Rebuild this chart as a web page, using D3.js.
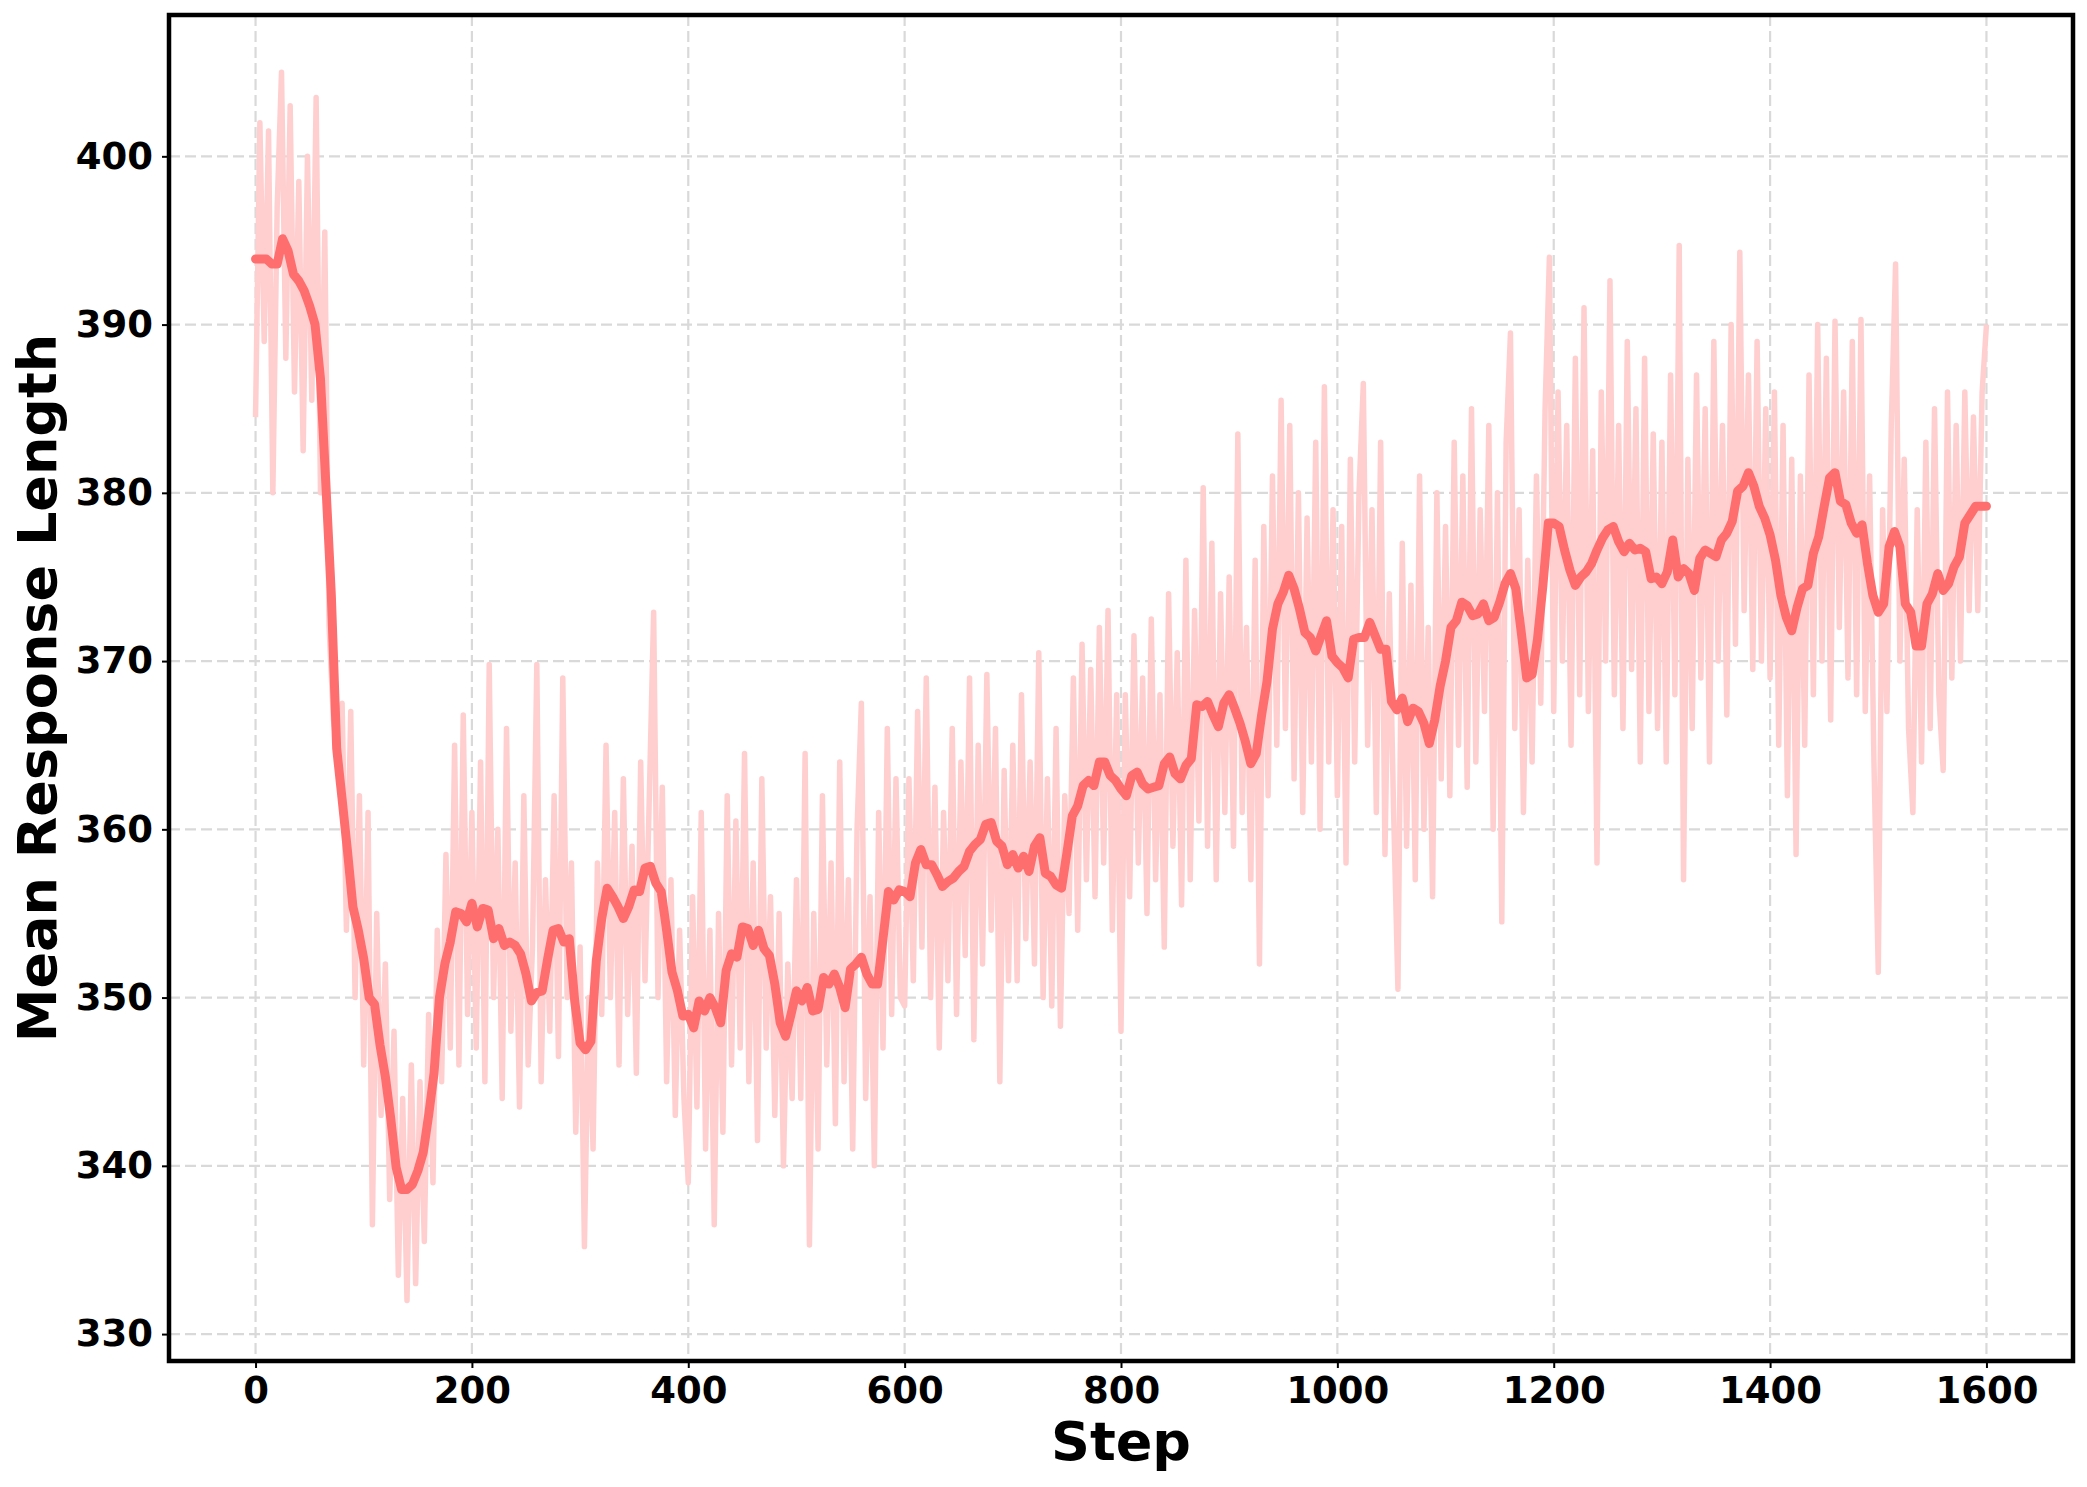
<!DOCTYPE html>
<html>
<head>
<meta charset="utf-8">
<script src="https://cdn.jsdelivr.net/npm/d3@7"></script>
<style>
body { margin: 0; background: #fff; }
text { font-family: 'DejaVu Sans', sans-serif; font-weight: bold; }
</style>
</head>
<body>
<script>
// raw mean response length, one reading every 4 steps
var rawEvery = 4
var raw = [
  384.5, 402, 389, 401.5, 380, 397, 405, 388, 403, 386, 398.5, 382.5, 400, 385.5, 403.5, 380, 395.5, 372, 366.5, 364.5, 367.5, 354, 367, 350, 362,
  346, 361, 336.5, 355, 343, 352, 338, 348, 333.5, 344, 332, 346, 333, 345, 335.5, 349, 339, 354, 345, 358.5, 347, 365, 346, 366.8, 349,
  361, 347, 364, 345, 369.8, 350, 360, 344, 366, 348, 358, 343.5, 362, 346, 353, 369.8, 345, 357, 348, 362, 346.5, 369, 350, 358, 342,
  353, 335.2, 350, 341, 358, 349, 365, 350, 361, 346, 363, 349, 359, 345.5, 364, 351, 362, 372.9, 350, 362.5, 345, 357, 343, 354, 344,
  339, 356, 343.5, 361, 341, 354, 336.5, 355, 342, 362, 346, 360.5, 347, 364.5, 345, 358, 341.5, 363, 347, 356, 343, 355, 340, 352, 344,
  357, 344, 364.5, 335.3, 355, 341, 362, 346, 358, 342.5, 364, 345, 357, 341, 360, 367.5, 344, 356, 340, 361, 347, 366, 349, 363, 350,
  349.5, 363, 351, 367, 353, 369, 350, 362.5, 347, 361, 351, 366, 349, 364, 352.5, 369, 347.5, 365, 352, 369.2, 354, 366, 345, 363.5, 351,
  365, 351, 368, 353.5, 364, 352, 370.5, 350, 363, 349.5, 366, 348.3, 362, 355, 369, 354, 371, 357, 369.5, 356, 372, 358, 373, 354, 368,
  348, 368, 356, 371.5, 358, 369, 355, 372.5, 357, 368, 353, 374, 359, 370.5, 355.5, 376, 357, 373, 360.5, 380.3, 359, 377, 357, 374, 361,
  375, 359, 383.5, 361, 372, 357, 376, 352, 378, 362, 381, 365, 385.5, 366, 384, 363, 380, 361, 378.5, 364, 383, 360, 386.3, 364, 379,
  362, 378, 358, 382, 364, 380, 386.5, 365, 379, 361, 383, 358.5, 374, 361, 350.5, 377, 359, 374.5, 357, 381, 360, 372, 356, 380, 363,
  378, 362, 383, 365, 381, 362.5, 385, 364, 379, 367, 384, 360, 380, 354.5, 383, 389.5, 366, 379, 361, 376, 364, 381, 367.5, 385, 394,
  367, 386, 370, 384, 365, 388, 368, 391, 367, 382.5, 358, 386, 370, 392.6, 368, 384, 366, 389, 369.5, 385, 364, 388, 367, 383.5, 366,
  383, 364, 387, 368, 394.7, 357, 382, 366, 387, 369, 385, 364, 389, 370, 384, 366.8, 390, 371, 394.3, 373, 387, 369.5, 389, 370, 385,
  369, 386, 365, 384, 362, 382, 358.5, 381, 365, 387, 368, 390, 370, 388, 366.5, 390.2, 372, 386, 369, 389, 368, 390.3, 367, 381, 364,
  351.5, 379, 367, 384, 393.6, 370, 382, 366, 361, 379, 364, 383, 366, 385, 368, 363.5, 386, 369, 384, 370, 386, 373, 384.5, 373, 386,
  390
]

// smoothed curve, one reading every 5 steps
var smoothEvery = 5
var smooth = [
  393.9, 393.9, 393.9, 393.6, 393.6, 395.1, 394.4, 393.0, 392.6, 392.0, 391.1, 390.0, 386.8, 380.5, 374.0, 364.8, 361.8, 358.7, 355.4, 354.0,
  352.3, 350.0, 349.6, 347.2, 345.3, 342.8, 339.9, 338.6, 338.6, 338.9, 339.7, 340.8, 343.0, 345.5, 350.0, 352.0, 353.3, 355.1, 355.0, 354.5,
  355.6, 354.2, 355.3, 355.2, 353.5, 354.1, 353.1, 353.3, 353.1, 352.6, 351.4, 349.8, 350.3, 350.4, 352.3, 354.0, 354.1, 353.3, 353.5, 349.8,
  347.3, 346.9, 347.4, 352.2, 354.7, 356.5, 356.0, 355.4, 354.7, 355.4, 356.4, 356.3, 357.7, 357.8, 356.8, 356.3, 354.0, 351.5, 350.4, 348.9,
  349.0, 348.2, 349.8, 349.2, 350.0, 349.4, 348.5, 351.6, 352.6, 352.4, 354.2, 354.1, 353.1, 354.0, 352.9, 352.5, 350.8, 348.5, 347.7, 349.0,
  350.4, 349.8, 350.6, 349.2, 349.3, 351.2, 350.8, 351.4, 350.6, 349.4, 351.7, 352.0, 352.4, 351.4, 350.8, 350.8, 353.5, 356.3, 355.8, 356.4,
  356.3, 356.0, 358.0, 358.8, 357.9, 357.9, 357.3, 356.6, 356.9, 357.1, 357.5, 357.8, 358.7, 359.1, 359.4, 360.3, 360.4, 359.3, 359.0, 357.9,
  358.5, 357.7, 358.4, 357.5, 359.0, 359.5, 357.4, 357.2, 356.7, 356.5, 358.6, 360.8, 361.4, 362.6, 362.9, 362.6, 364.0, 364.0, 363.2, 362.9,
  362.4, 362.0, 363.2, 363.4, 362.7, 362.4, 362.5, 362.6, 363.9, 364.3, 363.3, 363.0, 363.8, 364.2, 367.4, 367.3, 367.6, 366.8, 366.1, 367.5,
  368.0, 367.2, 366.3, 365.2, 363.9, 364.5, 366.8, 368.8, 371.9, 373.4, 374.1, 375.1, 374.3, 373.1, 371.7, 371.4, 370.6, 371.5, 372.4, 370.3,
  369.9, 369.6, 369.0, 371.3, 371.4, 371.4, 372.3, 371.5, 370.7, 370.7, 367.6, 367.1, 367.8, 366.4, 367.2, 367.0, 366.3, 365.1, 366.5, 368.5,
  370.0, 372.0, 372.4, 373.5, 373.3, 372.7, 372.8, 373.4, 372.4, 372.6, 373.5, 374.6, 375.2, 374.3, 371.7, 369.0, 369.2, 371.3, 374.5, 378.2,
  378.2, 378.0, 376.6, 375.4, 374.5, 375.0, 375.3, 375.8, 376.6, 377.3, 377.8, 378.0, 377.1, 376.5, 377.0, 376.6, 376.7, 376.5, 374.9, 375.0,
  374.6, 375.3, 377.2, 375.0, 375.5, 375.2, 374.2, 376.1, 376.6, 376.4, 376.2, 377.2, 377.6, 378.3, 380.1, 380.4, 381.2, 380.4, 379.2, 378.5,
  377.5, 376.0, 373.9, 372.6, 371.8, 373.2, 374.3, 374.5, 376.4, 377.4, 379.2, 380.9, 381.2, 379.5, 379.3, 378.2, 377.6, 378.1, 375.8, 373.9,
  372.9, 373.4, 376.8, 377.7, 376.8, 373.4, 372.9, 370.9, 370.9, 373.4, 374.0, 375.2, 374.2, 374.6, 375.6, 376.2, 378.2, 378.7, 379.2, 379.2,
  379.2
]

var xTicks = [0, 200, 400, 600, 800, 1000, 1200, 1400, 1600]
var yTicks = [330, 340, 350, 360, 370, 380, 390, 400]

var W = 2087, H = 1487
var frame = {left: 169, right: 2073, top: 15, bottom: 1361}

var svg = d3.select('body').append('svg').attr('width', W).attr('height', H)

var x = d3.scaleLinear().domain([-80, 1680]).range([frame.left, frame.right])
var y = d3.scaleLinear().domain([328.4, 408.4]).range([frame.bottom, frame.top])

// grid
var grid = svg.append('g')
  .style('stroke', '#d9d9d9').style('stroke-width', 2.2).style('stroke-dasharray', '11,5')
grid.selectAll('line.gx').data(xTicks).enter().append('line')
  .attr('x1', x).attr('x2', x).attr('y1', frame.top).attr('y2', frame.bottom)
grid.selectAll('line.gy').data(yTicks).enter().append('line')
  .attr('y1', y).attr('y2', y).attr('x1', frame.left).attr('x2', frame.right)

svg.append('clipPath').attr('id', 'clip').append('rect')
  .attr('x', frame.left).attr('y', frame.top)
  .attr('width', frame.right - frame.left).attr('height', frame.bottom - frame.top)

var plot = svg.append('g').attr('clip-path', 'url(#clip)')

var rawLine = d3.line().x(function(d, i){ return x(i * rawEvery) }).y(function(d){ return y(d) })
var smoothLine = d3.line().x(function(d, i){ return x(i * smoothEvery) }).y(function(d){ return y(d) })

plot.append('path').datum(raw).attr('d', rawLine)
  .style('fill', 'none').style('stroke', '#ffcfcf')
  .style('stroke-width', 5.5).style('stroke-linejoin', 'round')

plot.append('path').datum(smooth).attr('d', smoothLine)
  .style('fill', 'none').style('stroke', '#ff6e6e')
  .style('stroke-width', 9).style('stroke-linejoin', 'round').style('stroke-linecap', 'round')

// axes
var xAxis = svg.append('g').attr('transform', 'translate(0,' + frame.bottom + ')')
  .call(d3.axisBottom(x).tickValues(xTicks).tickSize(7).tickPadding(9).tickFormat(d3.format('d')))
var yAxis = svg.append('g').attr('transform', 'translate(' + frame.left + ',0)')
  .call(d3.axisLeft(y).tickValues(yTicks).tickSize(7).tickPadding(9).tickFormat(d3.format('d')))

;[xAxis, yAxis].forEach(function(a){
  a.select('.domain').remove()
  a.selectAll('.tick line').style('stroke', '#000').style('stroke-width', 2)
  a.selectAll('.tick text').style('font-size', '37px').style('fill', '#000')
    .style('font-family', "'DejaVu Sans', sans-serif").style('font-weight', 'bold')
})

// frame
svg.append('rect')
  .attr('x', frame.left).attr('y', frame.top)
  .attr('width', frame.right - frame.left).attr('height', frame.bottom - frame.top)
  .style('fill', 'none').style('stroke', '#000').style('stroke-width', 4.5)

// labels
svg.append('text').text('Step')
  .attr('x', (frame.left + frame.right) / 2).attr('y', 1460)
  .attr('text-anchor', 'middle').style('font-size', '54px')

svg.append('text').text('Mean Response Length')
  .attr('transform', 'translate(56,' + (frame.top + frame.bottom) / 2 + ') rotate(-90)')
  .attr('text-anchor', 'middle').style('font-size', '54px')
</script>
</body>
</html>
